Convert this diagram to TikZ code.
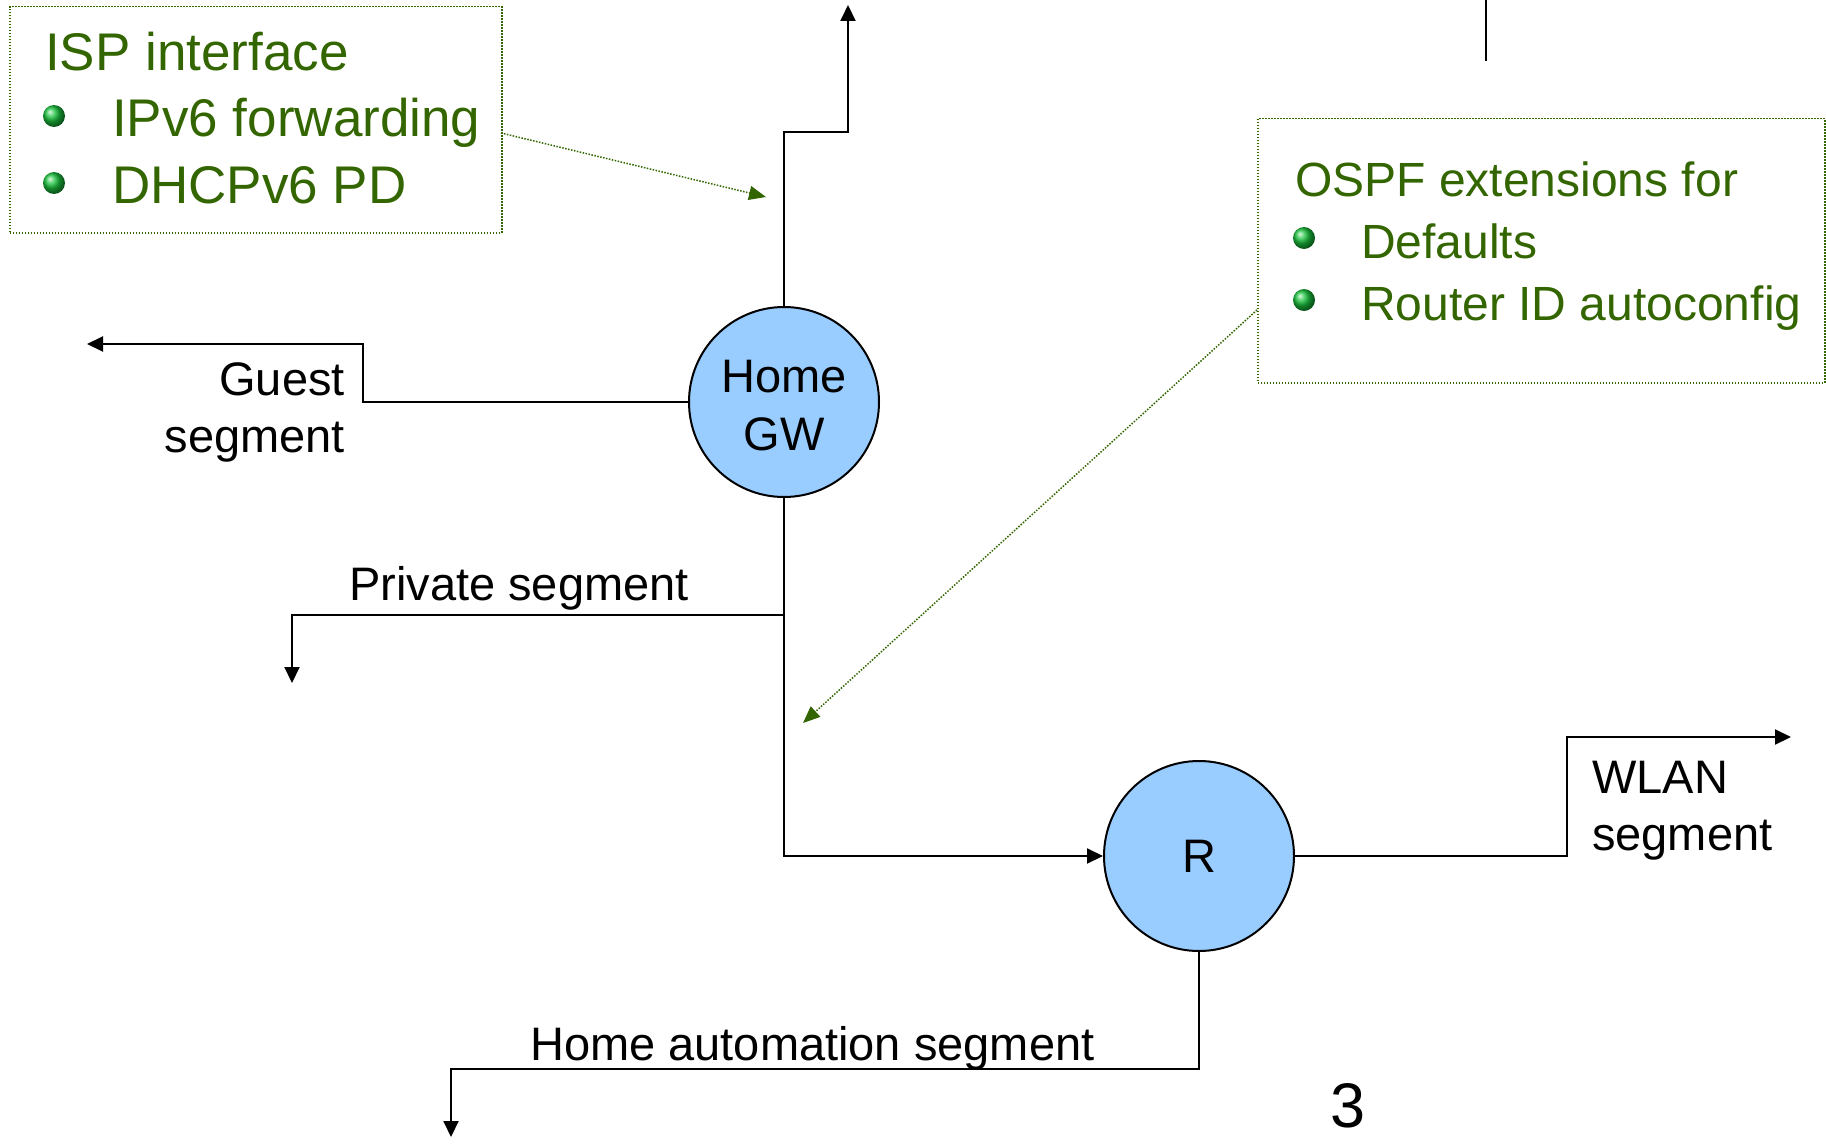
\documentclass[tikz,border=0pt]{standalone}
\usepackage{fontspec}
\setmainfont{Liberation Sans}
\usetikzlibrary{arrows.meta,shadings}
\definecolor{dgreen}{RGB}{51,102,0}
\definecolor{nodeblue}{RGB}{153,204,255}
\definecolor{bulletgreen}{RGB}{25,195,60}
\begin{document}
\begin{tikzpicture}[x=1pt,y=-1pt,
  router/.style={circle, draw=black, line width=2pt, fill=nodeblue, minimum size=190pt, inner sep=0pt, align=center, font=\fontsize{47}{58}\selectfont},
  lbl/.style={inner sep=0pt, font=\fontsize{47}{57}\selectfont},
  glbl/.style={inner sep=0pt, text=dgreen, font=\fontsize{53}{66}\selectfont},
  olbl/.style={inner sep=0pt, text=dgreen, font=\fontsize{48}{62}\selectfont},
  link/.style={line width=2pt, -{Triangle[length=16pt,width=15pt]}},
  plainline/.style={line width=2pt},
  notebox/.style={draw=dgreen, line width=1.5pt, dash pattern=on 1.5pt off 1.5pt, inner sep=0pt},
  callout/.style={draw=dgreen, line width=1.5pt, dash pattern=on 1.5pt off 1.5pt, -{Triangle[length=17pt,width=14pt,fill=dgreen]}},
  gbullet/.style={circle, minimum size=22pt, inner sep=0pt, shading=ball, ball color=bulletgreen},
]
\useasboundingbox (0,0) rectangle (1826,1145);

% note boxes
\node[notebox, anchor=north west, minimum width=492pt, minimum height=226pt] (ispbox) at (9,6) {};
\node[notebox, anchor=north west, minimum width=567pt, minimum height=264pt] (ospfbox) at (1257,118) {};

% texts in ISP box
\node[glbl, anchor=base west] (isptitle) at (45,71) {ISP interface};
\node[gbullet] (b1) at (54,116) {};
\node[gbullet] (b2) at (54,183) {};
\node[glbl, anchor=base west] (ipv6fwd) at (112,137) {IPv6 forwarding};
\node[glbl, anchor=base west] (dhcppd) at (112,204) {DHCPv6 PD};

% texts in OSPF box
\node[olbl, anchor=base west] (ospftitle) at (1295,196) {OSPF extensions for};
\node[gbullet] (b3) at (1304,238) {};
\node[gbullet] (b4) at (1304,300) {};
\node[olbl, anchor=base west] (defaults) at (1361,258) {Defaults};
\node[olbl, anchor=base west] (rid) at (1361,320) {Router ID autoconfig};

% routers
\node[router] (gw) at (784,402) {\rule{0pt}{40pt}Home\\GW};
\node[router] (r) at (1199,856) {R};

% coordinates
\coordinate (topA) at (1486,0);
\coordinate (topB) at (1486,61);
\coordinate (upcorner) at (848,132);
\coordinate (uptip) at (848,5);
\coordinate (gcorner) at (363,344);
\coordinate (gtip) at (87,344);
\coordinate (pjoin) at (784,615);
\coordinate (pcorner) at (292,615);
\coordinate (ptip) at (292,683);
\coordinate (wcorner) at (1567,737);
\coordinate (wtip) at (1791,737);
\coordinate (hcorner) at (451,1069);
\coordinate (htip) at (451,1137);
\coordinate (ispout) at (501,133);
\coordinate (isptip) at (766,197);
\coordinate (ospfout) at (1257,310);
\coordinate (ospftip) at (803,723);

% connectors
\draw[plainline] (topA) -- (topB);
\draw[link] (gw.north) |- (upcorner) -- (uptip);
\draw[link] (gw.west) -| (gcorner) -- (gtip);
\draw[link] (gw.south) |- (r.west);
\draw[link] (pjoin) -- (pcorner) -- (ptip);
\draw[link] (r.east) -| (wcorner) -- (wtip);
\draw[link] (r.south) |- (hcorner) -- (htip);
\draw[callout] (ispout) -- (isptip);
\draw[callout] (ospfout) -- (ospftip);

% labels
\node[lbl, anchor=base east] (guest1) at (345,395) {Guest};
\node[lbl, anchor=base east] (guest2) at (345,452) {segment};
\node[lbl, anchor=base west] (private) at (349,600) {Private segment};
\node[lbl, anchor=base west] (wlan1) at (1592,793) {WLAN};
\node[lbl, anchor=base west] (wlan2) at (1592,850) {segment};
\node[lbl, anchor=base west] (homeauto) at (530,1060) {Home automation segment};
\node[inner sep=0pt, anchor=base west, font=\fontsize{63}{70}\selectfont] (pagenum) at (1330,1127) {3};
\end{tikzpicture}
\end{document}
